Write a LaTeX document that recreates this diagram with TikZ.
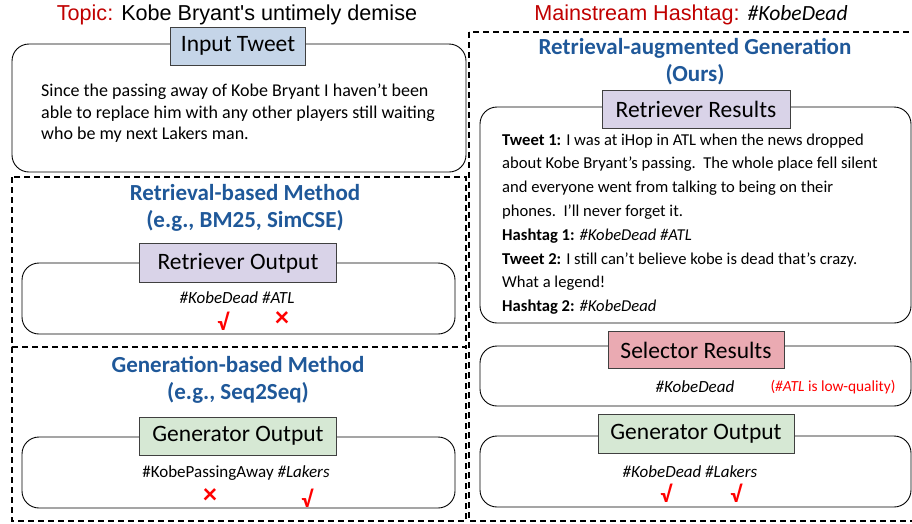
\documentclass[tikz,border=0pt]{standalone}
\usepackage{fontspec}
\setmainfont{Carlito}
\newfontfamily\arialfont{Liberation Sans}
\definecolor{topicred}{RGB}{192,0,0}
\definecolor{headblue}{RGB}{31,88,153}
\definecolor{tagblue}{RGB}{197,213,232}
\definecolor{taglilac}{RGB}{217,211,232}
\definecolor{tagpink}{RGB}{234,170,178}
\definecolor{taggreen}{RGB}{214,232,212}
\tikzset{
  groupbox/.style={line width=1.4pt,dash pattern=on 6pt off 4pt},
  panel/.style={draw,line width=0.9pt,rounded corners=17pt},
  tag/.style={draw=black!75,line width=0.9pt,inner sep=0pt,font=\fontsize{23.5}{26}\selectfont},
  head/.style={text=headblue,align=center,font=\fontsize{23}{27}\selectfont\bfseries},
  line/.style={anchor=base west,inner sep=0pt,font=\fontsize{18}{21}\selectfont},
  rline/.style={anchor=base west,inner sep=0pt,font=\fontsize{16.6}{20}\selectfont},
  hashtag/.style={inner sep=0pt,font=\fontsize{17}{20}\selectfont},
  ok/.style={text=red,inner sep=0pt,font=\fontsize{23}{24}\selectfont\bfseries},
  nok/.style={text=red,inner sep=0pt,font=\fontsize{28}{29}\selectfont\bfseries},
}
\begin{document}
\begin{tikzpicture}[x=1pt,y=-1pt]
  \useasboundingbox(0,0)rectangle(912,523);
  % titles
  \node[font=\arialfont\fontsize{21.6}{24}\selectfont](topic)at(237,15){\textcolor{topicred}{Topic:} Kobe Bryant's untimely demise};
  \node[font=\arialfont\fontsize{21.6}{24}\selectfont](mainstream)at(691,15){\textcolor{topicred}{Mainstream Hashtag:} {\normalfont\itshape\#KobeDead}};
  % dashed groups
  \draw[groupbox](12,177)rectangle(466,347);
  \draw[groupbox](12,347)rectangle(466,521);
  \draw[groupbox](469,32)rectangle(930,521);
  % input tweet
  \draw[panel](12,44)rectangle(466,172);
  \node[tag,fill=tagblue,minimum width=135pt,minimum height=38pt](input)at(238,46){Input Tweet};
  \node[line](in1)at(41,96){Since the passing away of Kobe Bryant I haven't been};
  \node[line](in2)at(41,118){able to replace him with any other players still waiting};
  \node[line](in3)at(41,139){who be my next Lakers man.};
  % retrieval-based
  \node[head](rbhead)at(245,208){Retrieval-based Method\\(e.g., BM25, SimCSE)};
  \draw[panel](22,263)rectangle(455,334);
  \node[tag,fill=taglilac,minimum width=197pt,minimum height=39pt](rbout)at(238,263){Retriever Output};
  \node[hashtag](rbtags)at(237,298){\itshape\#KobeDead \#ATL};
  \node[ok](rbyes)at(223,321){√};
  \node[nok](rbno)at(282,319){×};
  % generation-based
  \node[head](gbhead)at(238,380){Generation-based Method\\(e.g., Seq2Seq)};
  \draw[panel](22,437)rectangle(455,508);
  \node[tag,fill=taggreen,minimum width=197pt,minimum height=38pt](gbout)at(238,436){Generator Output};
  \node[hashtag](gbtags)at(236,473){\#KobePassingAway \textit{\#Lakers}};
  \node[nok](gbno)at(210,496){×};
  \node[ok](gbyes)at(307,498){√};
  % retrieval-augmented generation
  \node[head](raghead)at(695,62){Retrieval-augmented Generation\\(Ours)};
  \draw[panel](480,107)rectangle(911,323);
  \node[tag,fill=taglilac,minimum width=188pt,minimum height=38pt](retres)at(696,109){Retriever Results};
  \node[rline](r1)at(502,145){\textbf{Tweet 1:} I was at iHop in ATL when the news dropped};
  \node[rline](r2)at(502,168.8){about Kobe Bryant’s passing.\ \ The whole place fell silent};
  \node[rline](r3)at(502,192.6){and everyone went from talking to being on their};
  \node[rline](r4)at(502,216.4){phones.\ \ I’ll never forget it.};
  \node[rline](r5)at(502,240.2){\textbf{Hashtag 1:} \textit{\#KobeDead \#ATL}};
  \node[rline](r6)at(502,264){\textbf{Tweet 2:} I still can’t believe kobe is dead that’s crazy.};
  \node[rline](r7)at(502,287.8){What a legend!};
  \node[rline](r8)at(502,311.6){\textbf{Hashtag 2:} \textit{\#KobeDead}};
  \draw[panel](480,346)rectangle(911,406);
  \node[tag,fill=tagpink,minimum width=176pt,minimum height=37pt](selres)at(696,350){Selector Results};
  \node[hashtag](seltag)at(695,387){\itshape\#KobeDead};
  \node[inner sep=0pt,text=red,font=\fontsize{15.4}{18}\selectfont](lowq)at(833,387){(\textit{\#ATL} is low-quality)};
  \draw[panel](480,436)rectangle(911,507);
  \node[tag,fill=taggreen,minimum width=196pt,minimum height=39pt](ragout)at(696,434){Generator Output};
  \node[hashtag](ragtags)at(690,472){\itshape\#KobeDead \#Lakers};
  \node[ok](ragyes1)at(666,493){√};
  \node[ok](ragyes2)at(736,493){√};
\end{tikzpicture}
\end{document}
